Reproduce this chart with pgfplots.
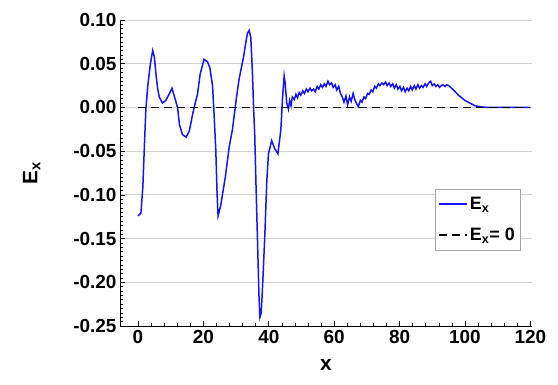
\documentclass[border=0pt]{standalone}
\usepackage{pgfplots}
\pgfplotsset{compat=1.18}
\usepackage{fontspec}
\setmainfont{Liberation Sans}
\definecolor{exblue}{RGB}{20,20,250}
\begin{document}
\begin{tikzpicture}
\begin{axis}[
  scale only axis, width=412bp, height=306bp,
  xmin=-5.5, xmax=120.5, ymin=-0.25, ymax=0.10,
  axis x line*=bottom, axis y line*=left,
  axis line style={black, line width=0.8pt, -},
  xtick={0,20,...,120}, ytick={-0.25,-0.20,...,0.10},
  minor x tick num=4, minor y tick num=9,
  tick align=inside,
  major tick length=5bp, minor tick length=3bp,
  tick style={black, line width=0.6pt},
  ymajorgrids, grid style={gray!35, line width=0.8pt},
  /pgf/number format/assume math mode=true,
  yticklabel style={/pgf/number format/.cd, fixed, fixed zerofill, precision=2},
  ticklabel style={font=\fontsize{19}{22}\selectfont\bfseries},
  xticklabel style={yshift=-1bp},
  xlabel={\fontsize{21}{24}\selectfont\bfseries x},
  ylabel={\fontsize{21}{24}\selectfont\bfseries E\textsubscript{x}},
  xlabel style={yshift=-9bp},
  ylabel style={yshift=26bp},
  legend style={at={(0.765,0.448)}, anchor=north west, draw=gray!70, line width=0.6pt,
    font=\fontsize{18}{21}\selectfont\bfseries, row sep=13bp, inner xsep=3bp, inner ysep=6bp},
  legend image code/.code={\draw[#1] (0bp,0bp) -- (28bp,0bp);},
  legend cell align=left,
]
\addplot[exblue, line width=1.5pt] coordinates {
(0,-0.124) (0.9,-0.121) (1.5,-0.090) (2.0,-0.040) (2.4,-0.003) (3.0,0.025) (3.8,0.050) (4.5,0.065)
(5.0,0.058) (5.5,0.038) (6.0,0.022) (6.5,0.012) (7.5,0.005) (8.5,0.008) (9.5,0.015) (10.4,0.022)
(11.1,0.013) (12.1,0.000) (12.7,-0.020) (13.6,-0.031) (14.7,-0.034) (15.7,-0.027) (16.7,-0.008)
(17.5,0.005) (18.2,0.015) (19.0,0.038) (20.2,0.055) (21.3,0.052) (22.0,0.045) (22.8,0.025)
(23.3,-0.010) (23.8,-0.049) (24.2,-0.100) (24.5,-0.124) (25.3,-0.112) (26.7,-0.080) (27.9,-0.045)
(28.9,-0.025) (29.9,0.005) (30.9,0.032) (32.3,0.058) (33.0,0.075) (33.5,0.085) (34.0,0.088)
(34.5,0.080) (35.0,0.040) (35.4,-0.005) (35.7,-0.030) (36.1,-0.090) (36.5,-0.145) (37.0,-0.215)
(37.3,-0.240) (37.7,-0.235) (38.1,-0.205) (38.8,-0.145) (39.4,-0.084) (39.9,-0.053) (40.9,-0.038)
(41.8,-0.047) (42.8,-0.053) (43.7,-0.025) (44.2,0.010) (44.7,0.036) (45.0,0.028) (45.5,0.005)
(46.0,-0.002) (46.4,0.008) (46.8,0.002) (47.2,0.012) (47.8,0.009) (48.3,0.015) (48.8,0.011)
(49.3,0.017) (49.8,0.014) (50.4,0.019) (50.9,0.016) (51.5,0.021) (52.0,0.018) (52.6,0.022)
(53.1,0.019) (53.7,0.021) (54.2,0.018) (54.8,0.024) (55.3,0.021) (55.9,0.026) (56.4,0.023)
(57.0,0.027) (57.5,0.024) (58.1,0.030) (58.6,0.026) (59.2,0.028) (59.7,0.023) (60.3,0.026)
(60.8,0.020) (61.4,0.024) (61.9,0.016) (62.5,0.012) (63.0,0.006) (63.6,0.013) (64.1,0.003)
(64.7,0.012) (65.2,0.007) (65.8,0.016) (66.3,0.009) (66.9,0.004) (67.4,0.001) (68.0,0.008)
(68.5,0.006) (69.1,0.012) (69.6,0.010) (70.2,0.016) (70.7,0.015) (71.3,0.020) (71.8,0.018)
(72.4,0.024) (72.9,0.022) (73.5,0.027) (74.0,0.025) (74.6,0.028) (75.1,0.026) (75.7,0.029)
(76.2,0.025) (76.8,0.028) (77.3,0.024) (77.9,0.027) (78.4,0.022) (79.0,0.026) (79.5,0.021)
(80.1,0.024) (80.6,0.019) (81.2,0.023) (81.7,0.018) (82.3,0.022) (82.8,0.019) (83.4,0.024)
(83.9,0.020) (84.5,0.025) (85.0,0.021) (85.6,0.026) (86.1,0.022) (86.7,0.025) (87.2,0.023)
(87.8,0.027) (88.3,0.024) (88.9,0.028) (89.5,0.030) (90.0,0.025) (90.6,0.027) (91.1,0.024)
(91.7,0.026) (92.2,0.023) (92.8,0.025) (93.3,0.026) (93.9,0.024) (94.4,0.026) (95.0,0.025)
(95.6,0.023) (96.2,0.021) (97.0,0.018) (98.0,0.014) (99.0,0.011) (100.0,0.008) (101.0,0.006)
(102.0,0.004) (103.0,0.002) (104.0,0.0012) (105.0,0.0006) (106.0,0.0003) (107.0,0.0001)
(108.0,0.0) (120.0,0.0)
};
\addlegendentry{E\textsubscript{x}}
\addplot[black, line width=1.1pt, dash pattern=on 8bp off 5bp] coordinates {(0,0) (120,0)};
\addlegendentry{E\textsubscript{x}= 0}
\path (rel axis cs:0,0) ++(-120bp,-59bp) coordinate (bl);
\path (rel axis cs:1,1) ++(26bp,20bp) coordinate (tr);
\end{axis}
\useasboundingbox (bl) rectangle (tr);
\end{tikzpicture}
\end{document}
